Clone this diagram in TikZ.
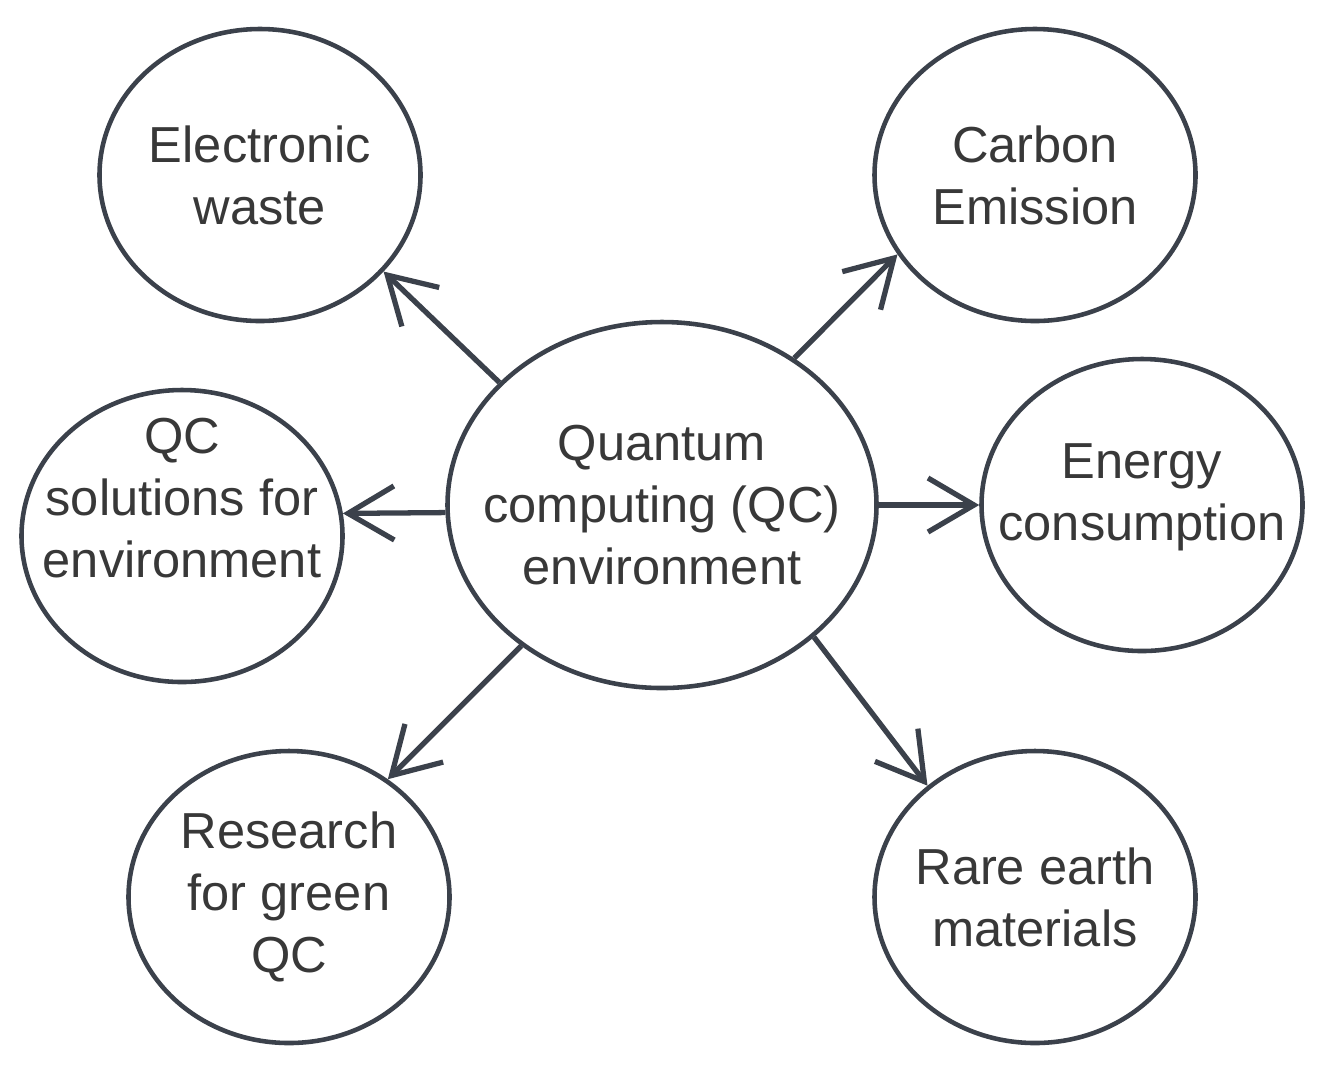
\documentclass[tikz,border=0pt]{standalone}
\usepackage{fontspec}
\setmainfont{Liberation Sans}
\usetikzlibrary{shapes.geometric,arrows.meta}
\definecolor{edge}{HTML}{3B414B}
\definecolor{ink}{HTML}{383838}
\begin{document}
\begin{tikzpicture}[y=-1cm,
  bubble/.style={ellipse,draw=edge,line width=1.3pt,inner sep=0pt,minimum width=3.21cm,minimum height=2.92cm},
  words/.style={text=ink,align=center,inner sep=0pt,font=\fontsize{14.4}{17.6}\selectfont},
  link/.style={-{Straight Barb[length=0.46cm,width=0.54cm]},draw=edge,line width=1.5pt}]

\useasboundingbox (0,0) rectangle (13.37,10.70);

% centre
\node[bubble,minimum width=4.29cm,minimum height=3.66cm] (QC) at (6.62, 5.05) {};
\node[words] (QCtext) at (QC) {Quantum\\computing (QC)\\environment};

% left side
\node[bubble] (EW) at (2.60, 1.75) {};
\node[words] (EWtext) at (EW) {Electronic\\waste};

\node[bubble] (QS) at (1.82, 5.36) {};
\node[words] (QStext) at (1.82, 4.98) {QC\\solutions for\\environment};

\node[bubble] (RG) at (2.89, 8.97) {};
\node[words] (RGtext) at (RG) {Research\\for green\\QC};

% right side
\node[bubble] (CE) at (10.35, 1.75) {};
\node[words] (CEtext) at (CE) {Carbon\\Emission};

\node[bubble] (EC) at (11.42, 5.05) {};
\node[words] (ECtext) at (11.42, 4.97) {Energy\\consumption};

\node[bubble] (RE) at (10.35, 8.97) {};
\node[words] (REtext) at (RE) {Rare earth\\materials};

% arrows
\draw[link] (QC.143) -- (EW.-38);
\draw[link] (QC.182) -- (QS.8);
\draw[link] (QC.225) -- (RG.50);
\draw[link] (QC.48) -- (CE.210);
\draw[link] (QC) -- (EC);
\draw[link] (QC.-41) -- (RE.134);

\end{tikzpicture}
\end{document}
